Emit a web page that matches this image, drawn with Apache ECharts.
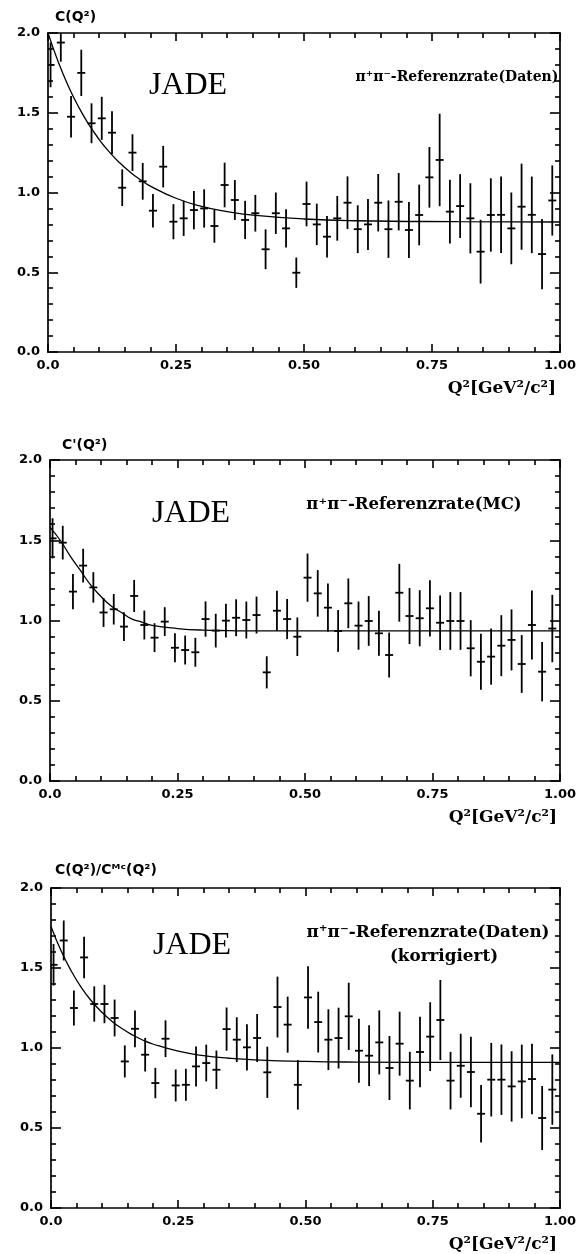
<!DOCTYPE html>
<html>
<head>
<meta charset="utf-8">
<script src="https://cdn.jsdelivr.net/npm/echarts@6/dist/echarts.min.js"></script>
<style>
html,body{margin:0;padding:0;background:#fff;}
#chart{width:579px;height:1254px;}
</style>
</head>
<body>
<div id="chart"></div>
<script>
// ---- data ----
const q2 = [0.005,0.025,0.045,0.065,0.085,0.105,0.125,0.145,0.165,0.185,
            0.205,0.225,0.245,0.265,0.285,0.305,0.325,0.345,0.365,0.385,
            0.405,0.425,0.445,0.465,0.485,0.505,0.525,0.545,0.565,0.585,
            0.605,0.625,0.645,0.665,0.685,0.705,0.725,0.745,0.765,0.785,
            0.805,0.825,0.845,0.865,0.885,0.905,0.925,0.945,0.965,0.985];

const p1Values = [1.80,1.94,1.475,1.75,1.434,1.465,1.375,1.03,1.25,1.07,
                  0.886,1.162,0.817,0.838,0.89,0.90,0.79,1.047,0.953,0.828,
                  0.87,0.644,0.87,0.775,0.497,0.928,0.80,0.723,0.838,0.936,
                  0.77,0.80,0.936,0.77,0.942,0.765,0.859,1.095,1.204,0.88,
                  0.915,0.838,0.629,0.859,0.86,0.775,0.911,0.86,0.614,0.95];
const p1Errors = [0.14,0.12,0.13,0.145,0.125,0.135,0.135,0.115,0.115,0.115,
                  0.105,0.13,0.11,0.11,0.12,0.12,0.105,0.14,0.125,0.12,
                  0.115,0.125,0.13,0.12,0.095,0.14,0.13,0.13,0.14,0.165,
                  0.15,0.16,0.18,0.18,0.18,0.175,0.19,0.19,0.29,0.2,
                  0.2,0.22,0.2,0.23,0.24,0.225,0.27,0.24,0.22,0.22];

const p2Values = [1.512,1.485,1.18,1.342,1.206,1.05,1.07,0.962,1.153,0.972,
                  0.893,0.993,0.83,0.816,0.802,1.009,0.937,0.999,1.017,1.003,
                  1.034,0.677,1.061,1.009,0.899,1.267,1.169,1.08,0.935,1.107,
                  0.968,0.997,0.92,0.785,1.173,1.028,1.014,1.076,0.986,0.997,
                  0.997,0.827,0.743,0.775,0.843,0.879,0.729,0.972,0.681,0.95];
const p2Errors = [0.125,0.105,0.11,0.105,0.095,0.09,0.095,0.09,0.1,0.09,
                  0.09,0.09,0.09,0.09,0.09,0.11,0.105,0.105,0.115,0.115,
                  0.115,0.1,0.125,0.125,0.12,0.15,0.145,0.15,0.13,0.155,
                  0.15,0.155,0.14,0.14,0.18,0.175,0.175,0.175,0.17,0.18,
                  0.18,0.175,0.175,0.175,0.19,0.19,0.18,0.215,0.185,0.21];

const p3Values = [1.52,1.672,1.25,1.566,1.275,1.275,1.1875,0.916,1.12,0.958,
                  0.781,1.058,0.766,0.77,0.885,0.906,0.864,1.118,1.052,1.004,
                  1.0625,0.848,1.256,1.146,0.77,1.316,1.162,1.052,1.062,1.198,
                  0.983,0.952,1.035,0.875,1.027,0.796,0.975,1.071,1.175,0.796,
                  0.889,0.85,0.589,0.802,0.802,0.76,0.791,0.806,0.5625,0.74];
const p3Errors = [0.13,0.125,0.11,0.13,0.11,0.12,0.115,0.1,0.115,0.105,
                  0.095,0.115,0.1,0.1,0.125,0.115,0.12,0.135,0.14,0.145,
                  0.15,0.16,0.19,0.175,0.155,0.195,0.19,0.19,0.19,0.21,
                  0.2,0.19,0.2,0.2,0.2,0.18,0.22,0.215,0.25,0.18,
                  0.2,0.22,0.18,0.23,0.22,0.22,0.23,0.22,0.2,0.22];

// fitted curves
const fitQ2  = [0,0.02,0.04,0.06,0.08,0.10,0.12,0.14,0.16,0.18,0.20,0.25,0.30,0.35,0.40,0.50,0.60,0.80,1.00];
const p1Fit  = [2.0,1.819,1.665,1.535,1.425,1.332,1.253,1.186,1.129,1.081,1.040,0.964,0.913,0.880,0.858,0.834,0.823,0.817,0.815];
const p2Fit  = [1.58,1.50,1.40,1.31,1.22,1.15,1.09,1.05,1.01,0.99,0.97,0.95,0.94,0.937,0.935,0.935,0.935,0.935,0.935];
const p3Fit  = [1.76,1.606,1.480,1.376,1.292,1.223,1.166,1.120,1.082,1.050,1.025,0.980,0.952,0.936,0.926,0.916,0.912,0.910,0.910];

const xTickLabels = ['0.0','0.25','0.50','0.75','1.00'];
const yTickLabels = ['0.0','0.5','1.0','1.5','2.0'];

const yTitles = ['C(Q²)', "C'(Q²)", 'C(Q²)/Cᴹᶜ(Q²)'];
const xTitle = 'Q²[GeV²/c²]';
const expLabel = 'JADE';
const panelLabels = [['π⁺π⁻-Referenzrate(Daten)'], ['π⁺π⁻-Referenzrate(MC)'], ['π⁺π⁻-Referenzrate(Daten)', '(korrigiert)']];

// ---- layout ----
const grids = [
  {left:48, top:33, width:520, height:319},
  {left:50, top:460, width:519, height:321},
  {left:51, top:888, width:518, height:320}
];

const chart = echarts.init(document.getElementById('chart'), null, {renderer:'canvas', width:579, height:1254});

const axisFont = {color:'#000', fontFamily:'DejaVu Sans', fontWeight:'bold', fontSize:13};
const lineStyle = {color:'#000', width:1.7};
const tickStyle = {color:'#000', width:1.6};

function makeAxis(i, isX, pos, showLabel) {
  const major = isX ? 0.25 : 0.5;
  const labels = isX ? xTickLabels : yTickLabels;
  return {
    gridIndex:i, type:'value', min:0, max:isX ? 1 : 2, interval:major, position:pos,
    axisLine:{show:true, onZero:false, lineStyle},
    axisTick:{show:true, inside:true, length:isX ? 8 : 10, lineStyle:tickStyle},
    minorTick:{show:true, splitNumber:5, length:5, lineStyle:tickStyle},
    splitLine:{show:false}, minorSplitLine:{show:false},
    axisLabel:showLabel
      ? Object.assign({show:true, margin:isX ? 7 : 8, formatter:(v) => labels[Math.round(v/major)]}, axisFont)
      : {show:false}
  };
}

const xAxes = [], yAxes = [], series = [];
grids.forEach((g, i) => {
  xAxes.push(makeAxis(i, true, 'bottom', true));
  xAxes.push(makeAxis(i, true, 'top', false));
  yAxes.push(makeAxis(i, false, 'left', true));
  yAxes.push(makeAxis(i, false, 'right', false));
});

const panelData = [[p1Values, p1Errors, p1Fit], [p2Values, p2Errors, p2Fit], [p3Values, p3Errors, p3Fit]];

function errRender(params, api) {
  const x = api.value(0), y = api.value(1), e = api.value(2);
  const lo = Math.max(y - e, 0), hi = Math.min(y + e, 2);
  const pLo = api.coord([x, lo]), pHi = api.coord([x, hi]), pc = api.coord([x, y]);
  const st = {stroke:'#000', lineWidth:1.8};
  return {type:'group', children:[
    {type:'line', shape:{x1:pLo[0], y1:pLo[1], x2:pHi[0], y2:pHi[1]}, style:st},
    {type:'line', shape:{x1:pc[0]-4, y1:pc[1], x2:pc[0]+4, y2:pc[1]}, style:st}
  ]};
}

panelData.forEach((pd, i) => {
  series.push({
    type:'custom', xAxisIndex:2*i, yAxisIndex:2*i, clip:true,
    renderItem:errRender, encode:{x:0, y:1},
    data:q2.map((x, k) => [x, pd[0][k], pd[1][k]]),
    silent:true, animation:false
  });
  series.push({
    type:'line', xAxisIndex:2*i, yAxisIndex:2*i, smooth:true, showSymbol:false,
    lineStyle:{color:'#000', width:1.3}, clip:true,
    data:fitQ2.map((x, k) => [x, pd[2][k]]),
    silent:true, animation:false
  });
});

const graphics = [];
const yTitlePos = [[55, 17], [62, 445], [55, 870]];
const jadePos = [[188, 86], [191, 514], [192, 946]];
const labelPos = [[457, 77, 14], [414, 505, 16.5], [428, 933, 16.8]];
grids.forEach((g, i) => {
  graphics.push({type:'text', x:yTitlePos[i][0], y:yTitlePos[i][1],
    style:{text:yTitles[i], fill:'#000', font:'bold 14px "DejaVu Sans", "Liberation Sans"', align:'left', verticalAlign:'middle'}});
  graphics.push({type:'text', x:g.left + g.width - 12, y:g.top + g.height + 37,
    style:{text:xTitle, fill:'#000', font:'bold 17px "DejaVu Serif", "Liberation Serif"', align:'right', verticalAlign:'middle'}});
  graphics.push({type:'text', x:jadePos[i][0], y:jadePos[i][1],
    style:{text:expLabel, fill:'#000', font:'32px "Liberation Serif", "DejaVu Serif"', align:'center', verticalAlign:'middle'}});
  panelLabels[i].forEach((t, j) => {
    const lx = j === 0 ? labelPos[i][0] : 444;
    graphics.push({type:'text', x:lx, y:labelPos[i][1] + 24*j,
      style:{text:t, fill:'#000', font:'bold ' + labelPos[i][2] + 'px "DejaVu Serif", "Liberation Serif"', align:'center', verticalAlign:'middle'}});
  });
});

chart.setOption({
  backgroundColor:'#fff',
  animation:false,
  grid:grids.map(g => Object.assign({containLabel:false}, g)),
  xAxis:xAxes,
  yAxis:yAxes,
  series:series,
  graphic:graphics
});
</script>
</body>
</html>
